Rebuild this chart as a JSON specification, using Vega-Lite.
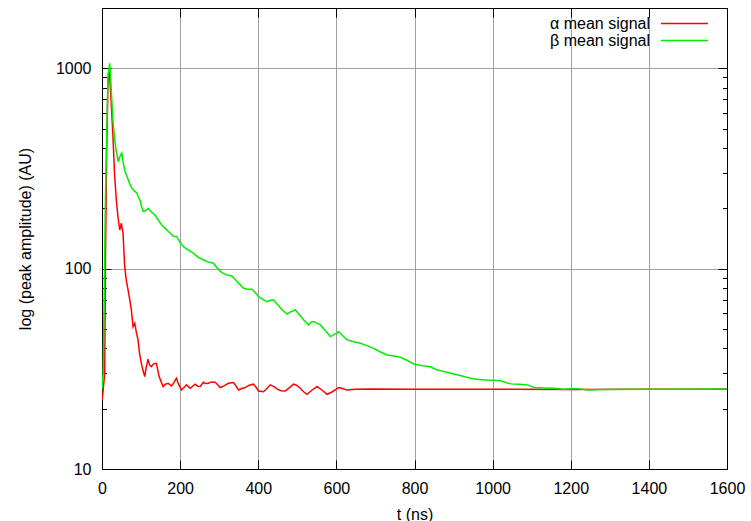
{
  "$schema": "https://vega.github.io/schema/vega-lite/v6.json",
  "width": 625,
  "height": 461,
  "autosize": {"type": "none"},
  "padding": {"left": 102, "top": 8, "right": 24, "bottom": 52},
  "background": "white",
  "config": {
    "view": {"stroke": "black", "strokeWidth": 1},
    "font": "Liberation Sans",
    "axis": {
      "labelFont": "Liberation Sans", "labelFontSize": 16, "labelColor": "black",
      "titleFont": "Liberation Sans", "titleFontSize": 16, "titleFontWeight": "normal", "titleColor": "black",
      "domainColor": "black", "domainWidth": 1, "tickColor": "black", "tickWidth": 1,
      "gridColor": "#a0a0a0", "gridWidth": 1
    },
    "legend": {
      "orient": "none", "title": null, "padding": 0,
      "symbolType": "stroke", "symbolSize": 2209, "symbolStrokeWidth": 1.5,
      "labelAlign": "right", "labelOffset": -59, "labelFont": "Liberation Sans",
      "labelFontSize": 16, "labelColor": "black", "labelLimit": 300
    }
  },
  "datasets": {
    "alpha": [
      {"t": 0, "v": 22}, {"t": 1.8, "v": 23.4}, {"t": 6.9, "v": 30}, {"t": 9, "v": 120}, {"t": 12, "v": 400},
      {"t": 15, "v": 800}, {"t": 18, "v": 1000}, {"t": 20, "v": 900}, {"t": 24, "v": 650}, {"t": 28.2, "v": 449},
      {"t": 32, "v": 300}, {"t": 36.7, "v": 220}, {"t": 41, "v": 180}, {"t": 45.4, "v": 156}, {"t": 49.5, "v": 168.5},
      {"t": 53.8, "v": 150}, {"t": 58.2, "v": 102}, {"t": 62, "v": 88}, {"t": 66.7, "v": 78.3}, {"t": 71, "v": 70},
      {"t": 75.1, "v": 62.2}, {"t": 79.5, "v": 51.3}, {"t": 83.8, "v": 53.4}, {"t": 88, "v": 48}, {"t": 92.3, "v": 44.1},
      {"t": 96, "v": 38}, {"t": 100.8, "v": 33.7}, {"t": 105, "v": 31}, {"t": 109.5, "v": 28.9}, {"t": 113, "v": 32},
      {"t": 117.9, "v": 35.3}, {"t": 122, "v": 33}, {"t": 126.4, "v": 32.4}, {"t": 132, "v": 33.5}, {"t": 139.2, "v": 33.7},
      {"t": 146, "v": 29}, {"t": 156.4, "v": 25.8}, {"t": 162, "v": 26.5}, {"t": 169.2, "v": 26.8}, {"t": 177.7, "v": 26.0},
      {"t": 184, "v": 27}, {"t": 190.5, "v": 28.4}, {"t": 196, "v": 26.5}, {"t": 203.3, "v": 24.8}, {"t": 210, "v": 25.5},
      {"t": 216.2, "v": 26.3}, {"t": 225.6, "v": 25.3}, {"t": 238.5, "v": 26.5}, {"t": 245, "v": 25.9}, {"t": 251.3, "v": 25.8},
      {"t": 259.7, "v": 27.1}, {"t": 266, "v": 26.7}, {"t": 272.6, "v": 26.8}, {"t": 280, "v": 27.2}, {"t": 289.7, "v": 27.1},
      {"t": 295, "v": 26.5}, {"t": 302.6, "v": 25.5}, {"t": 312, "v": 26}, {"t": 323.8, "v": 26.8}, {"t": 336.7, "v": 27.0},
      {"t": 343, "v": 26}, {"t": 349.5, "v": 24.8}, {"t": 358, "v": 25.2}, {"t": 366.7, "v": 25.5}, {"t": 377, "v": 26.2},
      {"t": 387.9, "v": 26.5}, {"t": 395, "v": 25.5}, {"t": 400.8, "v": 24.5}, {"t": 413.6, "v": 24.3}, {"t": 422, "v": 25.2},
      {"t": 430.8, "v": 26.3}, {"t": 440, "v": 25.8}, {"t": 447.9, "v": 25.1}, {"t": 458, "v": 24.6}, {"t": 469.2, "v": 24.5},
      {"t": 480, "v": 25.5}, {"t": 490.5, "v": 26.5}, {"t": 498, "v": 26.2}, {"t": 507.7, "v": 25.3}, {"t": 516, "v": 24.3},
      {"t": 524.9, "v": 23.6}, {"t": 538, "v": 24.8}, {"t": 550.5, "v": 25.8}, {"t": 563, "v": 24.8}, {"t": 576.2, "v": 23.6},
      {"t": 590, "v": 24.3}, {"t": 605.9, "v": 25.5}, {"t": 615, "v": 25.2}, {"t": 627.4, "v": 24.8}, {"t": 650, "v": 25.0},
      {"t": 687, "v": 25.1}, {"t": 800, "v": 25.0}, {"t": 1000, "v": 25.0}, {"t": 1200, "v": 24.9}, {"t": 1400, "v": 25.0},
      {"t": 1600, "v": 25.0}
    ],
    "beta": [
      {"t": 0, "v": 25}, {"t": 3, "v": 30}, {"t": 6, "v": 80}, {"t": 8.5, "v": 207}, {"t": 12.8, "v": 540},
      {"t": 15.4, "v": 930}, {"t": 19.7, "v": 1060}, {"t": 22, "v": 900}, {"t": 25, "v": 700}, {"t": 28.2, "v": 540},
      {"t": 32, "v": 450}, {"t": 36, "v": 390}, {"t": 41.8, "v": 341}, {"t": 45, "v": 360}, {"t": 50.5, "v": 378},
      {"t": 54, "v": 340}, {"t": 59, "v": 305}, {"t": 65, "v": 285}, {"t": 70, "v": 268}, {"t": 76.2, "v": 253},
      {"t": 82, "v": 245}, {"t": 89, "v": 239}, {"t": 93, "v": 228}, {"t": 97.4, "v": 220}, {"t": 101, "v": 205},
      {"t": 105.9, "v": 193}, {"t": 112, "v": 195}, {"t": 118.7, "v": 200}, {"t": 125, "v": 193}, {"t": 130, "v": 189},
      {"t": 135.9, "v": 185}, {"t": 143, "v": 176}, {"t": 153, "v": 165}, {"t": 163, "v": 158}, {"t": 172, "v": 152},
      {"t": 182.8, "v": 145}, {"t": 191.5, "v": 144.5}, {"t": 200, "v": 135}, {"t": 210, "v": 128}, {"t": 220, "v": 124},
      {"t": 234, "v": 119.4}, {"t": 246, "v": 114}, {"t": 259.7, "v": 110.5}, {"t": 272, "v": 108}, {"t": 285.4, "v": 106.4},
      {"t": 296, "v": 100}, {"t": 306.9, "v": 95.5}, {"t": 320, "v": 93}, {"t": 332.6, "v": 91.9}, {"t": 346, "v": 86},
      {"t": 362.3, "v": 79.8}, {"t": 373, "v": 79}, {"t": 383.8, "v": 78.9}, {"t": 392, "v": 76}, {"t": 400.8, "v": 72.5},
      {"t": 412, "v": 70}, {"t": 422.3, "v": 68.4}, {"t": 431, "v": 69.5}, {"t": 439.2, "v": 69.8}, {"t": 450, "v": 66},
      {"t": 462, "v": 62}, {"t": 473.6, "v": 59.4}, {"t": 484, "v": 61}, {"t": 494.9, "v": 62.2}, {"t": 505, "v": 59},
      {"t": 518, "v": 55}, {"t": 529, "v": 52.4}, {"t": 535, "v": 54}, {"t": 541.8, "v": 54.4}, {"t": 550, "v": 53.5},
      {"t": 559, "v": 52.4}, {"t": 572, "v": 49}, {"t": 584.6, "v": 45.8}, {"t": 595, "v": 47}, {"t": 605.9, "v": 48.5},
      {"t": 615, "v": 46.5}, {"t": 627.4, "v": 44.1}, {"t": 645, "v": 43.2}, {"t": 661.5, "v": 42.4}, {"t": 678, "v": 41.3},
      {"t": 695.6, "v": 40.0}, {"t": 712, "v": 38.5}, {"t": 730, "v": 37.1}, {"t": 748, "v": 36.6}, {"t": 764.1, "v": 36.1},
      {"t": 782, "v": 34.8}, {"t": 798.2, "v": 33.4}, {"t": 820, "v": 32.8}, {"t": 841, "v": 32.4}, {"t": 858, "v": 31.2},
      {"t": 880, "v": 30.5}, {"t": 900.8, "v": 29.8}, {"t": 922, "v": 29.1}, {"t": 943.6, "v": 28.4}, {"t": 965, "v": 28.0},
      {"t": 986.4, "v": 27.8}, {"t": 1003, "v": 27.7}, {"t": 1020, "v": 27.6}, {"t": 1046, "v": 26.6}, {"t": 1068, "v": 26.5},
      {"t": 1089, "v": 26.3}, {"t": 1106, "v": 25.5}, {"t": 1130, "v": 25.4}, {"t": 1157, "v": 25.3}, {"t": 1183, "v": 25.0},
      {"t": 1205, "v": 25.2}, {"t": 1226, "v": 25.1}, {"t": 1243, "v": 24.8}, {"t": 1280, "v": 24.9}, {"t": 1350, "v": 25.0},
      {"t": 1450, "v": 25.0}, {"t": 1600, "v": 25.1}
    ]
  },
  "layer": [
    {
      "encoding": {
        "x": {
          "field": "t", "type": "quantitative",
          "scale": {"domain": [0, 1600], "nice": false, "zero": false},
          "axis": {
            "orient": "bottom", "values": [0, 200, 400, 600, 800, 1000, 1200, 1400, 1600],
            "format": "d", "tickSize": -9, "labelPadding": 20, "grid": true,
            "title": "t (ns)", "titlePadding": 10, "labelFlush": false, "labelOverlap": false
          }
        },
        "y": {
          "field": "v", "type": "quantitative",
          "scale": {"type": "log", "domain": [10, 2000], "nice": false},
          "axis": {
            "orient": "left",
            "values": [10, 20, 30, 40, 50, 60, 70, 80, 90, 100, 200, 300, 400, 500, 600, 700, 800, 900, 1000, 2000],
            "format": "d",
            "labelExpr": "datum.value == 10 || datum.value == 100 || datum.value == 1000 ? datum.label : ''",
            "tickSize": {"condition": {"test": "datum.value == 10 || datum.value == 100 || datum.value == 1000", "value": -9}, "value": -4.5},
            "labelPadding": 20, "grid": true,
            "gridOpacity": {"condition": {"test": "datum.value == 10 || datum.value == 100 || datum.value == 1000", "value": 1}, "value": 0},
            "title": "log (peak amplitude) (AU)", "titlePadding": 22, "labelOverlap": false, "labelFlush": false
          }
        }
      },
      "layer": [
        {
          "data": {"name": "alpha"},
          "mark": {"type": "line", "strokeWidth": 1.5, "clip": true},
          "encoding": {
            "color": {
              "datum": "α mean signal", "type": "nominal",
              "scale": {"domain": ["α mean signal"], "range": ["#ff0000"]},
              "legend": {"legendX": 558, "legendY": -9}
            }
          }
        },
        {
          "data": {"name": "beta"},
          "mark": {"type": "line", "strokeWidth": 1.5, "clip": true},
          "encoding": {
            "color": {
              "datum": "β mean signal", "type": "nominal",
              "scale": {"domain": ["β mean signal"], "range": ["#00ee00"]},
              "legend": {"legendX": 558, "legendY": 8}
            }
          }
        }
      ],
      "resolve": {"scale": {"color": "independent"}}
    },
    {
      "data": {"name": "beta"},
      "mark": {"type": "line", "opacity": 0},
      "encoding": {
        "x": {
          "field": "t", "type": "quantitative",
          "axis": {
            "orient": "top", "values": [0, 200, 400, 600, 800, 1000, 1200, 1400, 1600],
            "tickSize": -9, "labels": false, "grid": false, "title": null
          }
        },
        "y": {
          "field": "v", "type": "quantitative",
          "axis": {
            "orient": "right",
            "values": [10, 20, 30, 40, 50, 60, 70, 80, 90, 100, 200, 300, 400, 500, 600, 700, 800, 900, 1000, 2000],
            "tickSize": {"condition": {"test": "datum.value == 10 || datum.value == 100 || datum.value == 1000", "value": -9}, "value": -4.5},
            "labels": false, "grid": false, "title": null
          }
        }
      }
    }
  ],
  "resolve": {"axis": {"x": "independent", "y": "independent"}}
}
